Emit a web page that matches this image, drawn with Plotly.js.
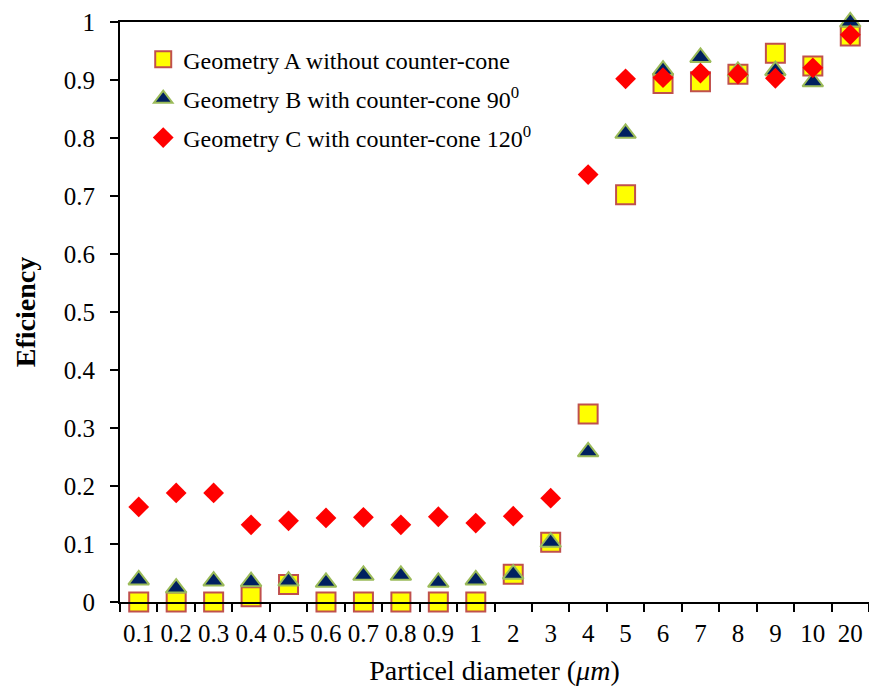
<!DOCTYPE html>
<html>
<head>
<meta charset="utf-8">
<script src="https://cdn.plot.ly/plotly-3.0.1.min.js"></script>
<style>html,body{margin:0;padding:0;background:#fff;}#chart{width:869px;height:689px;}</style>
</head>
<body>
<div id="chart"></div>
<script>
const categories = ["0.1","0.2","0.3","0.4","0.5","0.6","0.7","0.8","0.9","1","2","3","4","5","6","7","8","9","10","20"];
const geometryA = [0, 0, 0, 0.009, 0.03, 0, 0, 0, 0, 0, 0.048, 0.103, 0.324, 0.702, 0.894, 0.897, 0.910, 0.946, 0.924, 0.976];
const geometryB = [0.038, 0.024, 0.036, 0.035, 0.036, 0.034, 0.046, 0.046, 0.034, 0.038, 0.048, 0.103, 0.259, 0.808, 0.917, 0.939, 0.915, 0.916, 0.897, 1.0];
const geometryC = [0.164, 0.188, 0.188, 0.133, 0.140, 0.145, 0.146, 0.133, 0.147, 0.136, 0.148, 0.179, 0.737, 0.902, 0.904, 0.912, 0.910, 0.903, 0.921, 0.978];
const seriesNames = ["Geometry A without counter-cone", "Geometry B with counter-cone 90<sup>0</sup>", "Geometry C with counter-cone 120<sup>0</sup>"];

const FONT = "Liberation Serif, Times New Roman, serif";

const traces = [
  {x: categories, y: geometryA, name: seriesNames[0], type: "scatter", mode: "markers", cliponaxis: false, legend: "legend",
   marker: {symbol: "square", size: 19, color: "#ffff00", line: {color: "#c0504d", width: 2}}},
  {x: categories, y: geometryB, name: seriesNames[1], type: "scatter", mode: "markers", cliponaxis: false, legend: "legend2",
   marker: {symbol: "triangle-up", size: 18, color: "#002060", line: {color: "#9bbb59", width: 2}}},
  {x: categories, y: geometryC, name: seriesNames[2], type: "scatter", mode: "markers", cliponaxis: false, legend: "legend3",
   marker: {symbol: "diamond", size: 16, color: "#ff0000", line: {width: 0}}}
];

const legendBase = {x: 0.031, xanchor: "left", yanchor: "middle", bgcolor: "rgba(0,0,0,0)", borderwidth: 0,
  font: {family: FONT, size: 24, color: "#000"}};

const layout = {
  width: 869, height: 689,
  margin: {l: 120, r: 0, t: 22, b: 87},
  paper_bgcolor: "#fff", plot_bgcolor: "#fff",
  font: {family: FONT, size: 24, color: "#000"},
  showlegend: true,
  legend: Object.assign({}, legendBase, {y: 0.935}),
  legend2: Object.assign({}, legendBase, {y: 0.867}),
  legend3: Object.assign({}, legendBase, {y: 0.800}),
  xaxis: {
    type: "category", categoryorder: "array", categoryarray: categories,
    range: [-0.5, 19.5], autorange: false,
    showline: true, linecolor: "#000", linewidth: 2, mirror: true,
    ticks: "outside", ticklen: 8, tickwidth: 2, tickcolor: "#000", tickson: "boundaries",
    tickangle: 0, ticklabelstandoff: 8,
    showgrid: false, zeroline: false,
    tickfont: {family: FONT, size: 25, color: "#000"},
    title: {text: "Particel diameter (<i>μm</i>)", font: {family: FONT, size: 28, color: "#000"}, standoff: 14}
  },
  yaxis: {
    range: [0, 1], autorange: false, dtick: 0.1, tick0: 0,
    showline: true, linecolor: "#000", linewidth: 2,
    ticks: "outside", ticklen: 8, tickwidth: 2, tickcolor: "#000",
    ticklabelstandoff: 10,
    showgrid: false, zeroline: false,
    tickfont: {family: FONT, size: 25, color: "#000"},
    title: {text: "<b>Eficiency</b>", font: {family: FONT, size: 28, color: "#000"}, standoff: 20}
  }
};

Plotly.newPlot("chart", traces, layout, {displayModeBar: false, responsive: false});
</script>
</body>
</html>
